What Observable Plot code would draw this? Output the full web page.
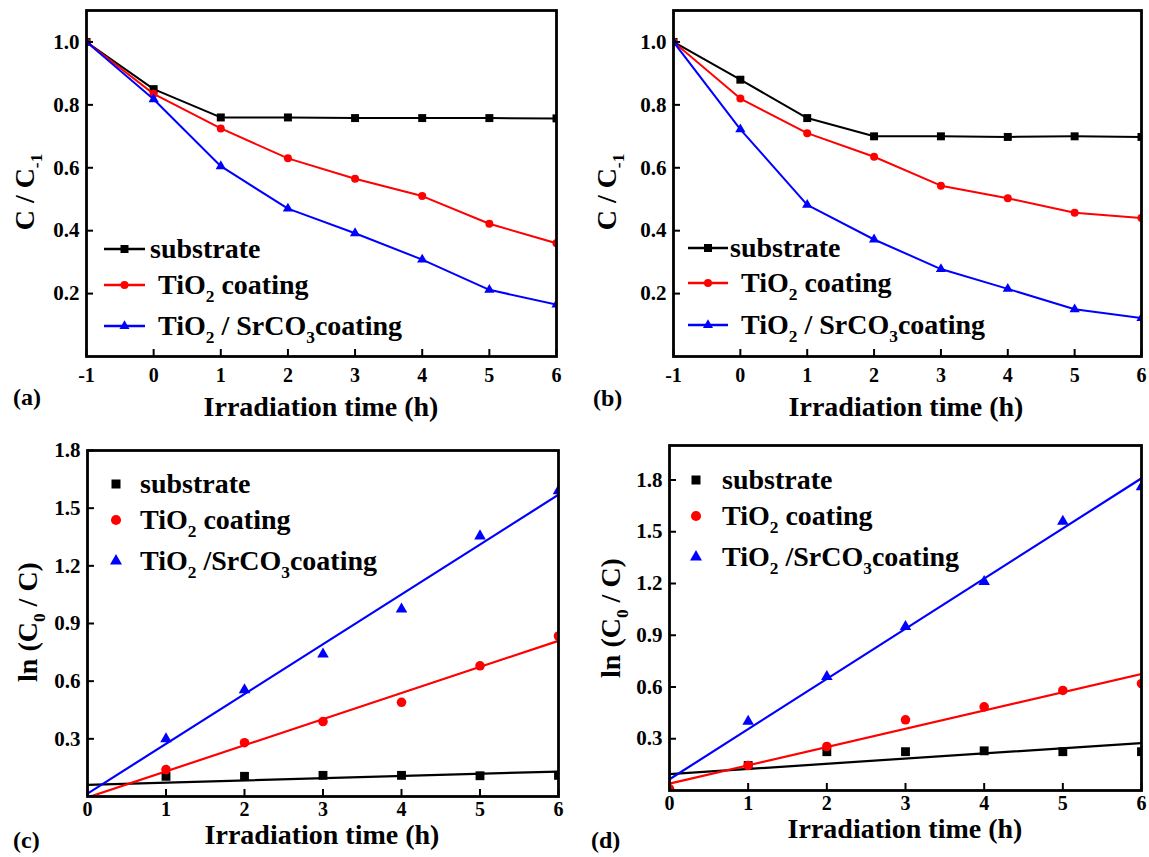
<!DOCTYPE html>
<html><head><meta charset="utf-8">
<script src="https://cdn.jsdelivr.net/npm/d3@7"></script>
<script src="https://cdn.jsdelivr.net/npm/@observablehq/plot@0.6"></script>
<style>
body{margin:0;background:#fff;}
#fig{position:relative;width:1149px;height:857px;background:#fff;overflow:hidden;}
#fig svg, #fig text, #fig tspan{font-family:"Liberation Serif","Times New Roman","DejaVu Serif",serif !important;font-weight:bold;}
#fig g[aria-label="x-axis tick label"] text{font-size:20px !important;}
#fig g[aria-label="y-axis tick label"] text{font-size:21px !important;}
</style></head><body><div id="fig"></div>
<script>
// ---------- data ----------
const seriesNames = ["substrate", "TiO2 coating", "TiO2 / SrCO3 coating"];
const seriesColors = ["#000000", "#ff0000", "#0000ff"];
const seriesSymbols = ["square", "circle", "triangle"];

// (a) C/C-1 vs irradiation time
const timeAB = [-1, 0, 1, 2, 3, 4, 5, 6];
const aSubstrate = [1.0, 0.85, 0.76, 0.76, 0.758, 0.758, 0.758, 0.757];
const aTiO2 = [1.0, 0.835, 0.725, 0.63, 0.565, 0.51, 0.422, 0.36];
const aSrCO3 = [1.0, 0.818, 0.605, 0.47, 0.392, 0.308, 0.212, 0.165];
// (b)
const bSubstrate = [1.0, 0.88, 0.758, 0.70, 0.70, 0.698, 0.70, 0.698];
const bTiO2 = [1.0, 0.82, 0.71, 0.635, 0.543, 0.503, 0.457, 0.44];
const bSrCO3 = [1.0, 0.722, 0.482, 0.372, 0.278, 0.215, 0.15, 0.122];
// (c) ln(C0/C) points
const timeCD = [1, 2, 3, 4, 5, 6];
const cSubstrate = [0.105, 0.105, 0.11, 0.11, 0.108, 0.11];
const cTiO2 = [0.14, 0.28, 0.39, 0.49, 0.68, 0.835];
const cSrCO3 = [0.30, 0.555, 0.74, 0.975, 1.355, 1.59];
// (d)
const dSubstrate = [0.145, 0.225, 0.225, 0.23, 0.225, 0.225];
const dTiO2 = [0.145, 0.255, 0.41, 0.485, 0.58, 0.62];
const dSrCO3 = [0.40, 0.66, 0.95, 1.21, 1.56, 1.76];
const dTiO2Start = [0, 0.01];
// linear fit lines (endpoints at t = 0 and t = 6)
const fitTime = [0, 6];
const cFitSubstrate = [0.06, 0.13];
const cFitTiO2 = [-0.005, 0.81];
const cFitSrCO3 = [0.015, 1.57];
const dFitSubstrate = [0.095, 0.275];
const dFitTiO2 = [0.04, 0.675];
const dFitSrCO3 = [0.065, 1.81];

// ticks
const xTicksAB = [-1, 0, 1, 2, 3, 4, 5, 6];
const yTicksAB = [0.2, 0.4, 0.6, 0.8, 1.0];
const xTicksCD = [0, 1, 2, 3, 4, 5, 6];
const yTicksC = [0.3, 0.6, 0.9, 1.2, 1.5, 1.8];
const yTicksD = [0.3, 0.6, 0.9, 1.2, 1.5, 1.8];

// ---------- helpers ----------
const FONT = '"Liberation Serif","Times New Roman","DejaVu Serif",serif';
const XTICKFS = 20, YTICKFS = 21;
const rows = (xs, ys) => xs.map((x, i) => ({x, y: ys[i]}));
const fmtX = d => (d < 0 ? "-" + Math.abs(d) : String(d));
const markerR = {square: 4.5, circle: 4, triangle: 3.8};
const markerRpts = {square: 5, circle: 4.8, triangle: 4.3};

function panel(o) {
  const plotW = o.width - o.margin[1] - o.margin[3];
  const plotH = o.height - o.margin[0] - o.margin[2];
  const tickLen = 7;
  const dyTick = tickLen * (o.yDomain[1] - o.yDomain[0]) / plotH;
  const dxTick = tickLen * (o.xDomain[1] - o.xDomain[0]) / plotW;
  const marks = [];
  o.series.forEach((s, i) => {
    if (s.fit) marks.push(Plot.line(rows(fitTime, s.fit), {x: "x", y: "y", stroke: seriesColors[i], strokeWidth: 2.2, clip: true}));
    if (s.line) marks.push(Plot.line(rows(o.time, s.values), {x: "x", y: "y", stroke: seriesColors[i], strokeWidth: 2, clip: true}));
    const r = s.line ? markerR[seriesSymbols[i]] : markerRpts[seriesSymbols[i]];
    marks.push(Plot.dot(rows(o.time, s.values), {x: "x", y: "y", symbol: () => seriesSymbols[i], fill: seriesColors[i], stroke: "none", r, clip: true}));
    if (s.extra) marks.push(Plot.dot([{x: s.extra[0], y: s.extra[1]}], {x: "x", y: "y", symbol: () => seriesSymbols[i], fill: seriesColors[i], stroke: "none", r, clip: true}));
  });
  marks.push(Plot.ruleX(o.xTicks, {x: d => d, y1: o.yDomain[0], y2: o.yDomain[0] + dyTick, stroke: "#000", strokeWidth: 2}));
  marks.push(Plot.ruleY(o.yTicks, {y: d => d, x1: o.xDomain[0], x2: o.xDomain[0] + dxTick, stroke: "#000", strokeWidth: 2}));
  marks.push(Plot.axisX(o.xTicks, {tickSize: 0, tickPadding: o.xPad, tickFormat: fmtX, fontSize: XTICKFS, fontWeight: "bold", fontFamily: FONT, label: null}));
  marks.push(Plot.axisY(o.yTicks, {tickSize: 0, tickPadding: 7, tickFormat: d3.format(".1f"), fontSize: YTICKFS, fontWeight: "bold", fontFamily: FONT, label: null}));
  marks.push(Plot.frame({stroke: "#000", strokeWidth: 2.8}));
  const svg = Plot.plot({
    width: o.width, height: o.height,
    marginTop: o.margin[0], marginRight: o.margin[1], marginBottom: o.margin[2], marginLeft: o.margin[3],
    x: {domain: o.xDomain}, y: {domain: o.yDomain},
    symbol: {type: "identity"},
    style: {fontFamily: FONT, fontWeight: "bold", fontSize: XTICKFS + "px", background: "transparent", color: "#000", overflow: "visible"},
    marks
  });
  svg.style.position = "absolute";
  svg.style.left = o.left + "px";
  svg.style.top = o.top + "px";
  document.getElementById("fig").appendChild(svg);
}

panel({left: 0, top: 0, width: 580, height: 430, margin: [10, 24, 74, 86], xPad: 11,
  xDomain: [-1, 6], yDomain: [0, 1.1], xTicks: xTicksAB, yTicks: yTicksAB, time: timeAB,
  series: [{values: aSubstrate, line: true}, {values: aTiO2, line: true}, {values: aSrCO3, line: true}]});
panel({left: 580, top: 0, width: 569, height: 430, margin: [10, 8, 74, 93], xPad: 11,
  xDomain: [-1, 6], yDomain: [0, 1.1], xTicks: xTicksAB, yTicks: yTicksAB, time: timeAB,
  series: [{values: bSubstrate, line: true}, {values: bTiO2, line: true}, {values: bSrCO3, line: true}]});
panel({left: 0, top: 430, width: 580, height: 427, margin: [20, 22, 61, 87], xPad: 5,
  xDomain: [0, 6], yDomain: [0, 1.8], xTicks: xTicksCD, yTicks: yTicksC, time: timeCD,
  series: [{values: cSubstrate, fit: cFitSubstrate}, {values: cTiO2, fit: cFitTiO2}, {values: cSrCO3, fit: cFitSrCO3}]});
panel({left: 580, top: 430, width: 569, height: 427, margin: [15, 8, 67, 89], xPad: 5,
  xDomain: [0, 6], yDomain: [0, 2.0], xTicks: xTicksCD, yTicks: yTicksD, time: timeCD,
  series: [{values: dSubstrate, fit: dFitSubstrate}, {values: dTiO2, fit: dFitTiO2, extra: dTiO2Start}, {values: dSrCO3, fit: dFitSrCO3}]});

// ---------- overlay text & legends ----------
const ov = d3.select("#fig").append("svg")
  .attr("width", 1149).attr("height", 857)
  .style("position", "absolute").style("left", "0px").style("top", "0px")
  .style("pointer-events", "none")
  .style("font-family", FONT).style("font-weight", "bold");

function richText(x, y, parts, size, opt = {}) {
  const t = ov.append("text").attr("font-size", size).attr("fill", "#000");
  if (opt.rotate) t.attr("transform", `translate(${x},${y}) rotate(-90)`).attr("text-anchor", "middle");
  else t.attr("x", x).attr("y", y).attr("text-anchor", opt.anchor || "start");
  let shift = 0;
  const sh = size * 0.28;
  for (const [s, sub] of parts) {
    const ts = t.append("tspan").text(s);
    if (sub) { ts.attr("font-size", size * 0.62).attr("dy", sh - shift); shift = sh; }
    else { if (shift) ts.attr("dy", -shift); shift = 0; }
  }
  return t;
}

const labTiO2 = [["TiO"], ["2", 1], [" coating"]];
const labSrAB = [["TiO"], ["2", 1], [" / SrCO"], ["3", 1], ["coating"]];
const labSrCD = [["TiO"], ["2", 1], [" /SrCO"], ["3", 1], ["coating"]];

// panel letters
richText(13, 405, [["(a)"]], 24);
richText(593, 406, [["(b)"]], 24);
richText(13, 848, [["(c)"]], 24);
richText(591, 848, [["(d)"]], 24);
// x titles
richText(321, 416, [["Irradiation time (h)"]], 28, {anchor: "middle"});
richText(906, 416, [["Irradiation time (h)"]], 28, {anchor: "middle"});
richText(322, 844, [["Irradiation time (h)"]], 28, {anchor: "middle"});
richText(905, 838, [["Irradiation time (h)"]], 28, {anchor: "middle"});
// y titles
richText(34, 192, [["C / C"], ["-1", 1]], 28, {rotate: true});
richText(616, 192, [["C / C"], ["-1", 1]], 28, {rotate: true});
richText(37, 622, [["ln (C"], ["0", 1], [" / C)"]], 28, {rotate: true});
richText(620, 618, [["ln (C"], ["0", 1], [" / C)"]], 28, {rotate: true});

const symArea = {square: 64, circle: 50, triangle: 44};
const symAreaPts = {square: 81, circle: 80, triangle: 62};
const d3sym = {square: d3.symbolSquare, circle: d3.symbolCircle, triangle: d3.symbolTriangle};

function legend(cfg) {
  cfg.rowsY.forEach((y, i) => {
    const sym = seriesSymbols[i];
    if (cfg.lineX) {
      ov.append("line").attr("x1", cfg.lineX[0]).attr("x2", cfg.lineX[1]).attr("y1", y).attr("y2", y)
        .attr("stroke", seriesColors[i]).attr("stroke-width", 2.5);
    }
    ov.append("path").attr("d", d3.symbol(d3sym[sym], cfg.lineX ? symArea[sym] : symAreaPts[sym])())
      .attr("transform", `translate(${cfg.markX},${y})`).attr("fill", seriesColors[i]);
    richText(cfg.textX[i], y + 9, cfg.labels[i], 28);
  });
}
legend({lineX: [104, 145], markX: 124.5, rowsY: [249, 285, 326], textX: [150, 158, 158], labels: [[["substrate"]], labTiO2, labSrAB]});
legend({lineX: [688, 728], markX: 708, rowsY: [248, 283, 325], textX: [730, 741, 741], labels: [[["substrate"]], labTiO2, labSrAB]});
legend({markX: 116, rowsY: [484, 520, 561], textX: [140, 140, 140], labels: [[["substrate"]], labTiO2, labSrCD]});
legend({markX: 696, rowsY: [480, 516, 557], textX: [722, 722, 722], labels: [[["substrate"]], labTiO2, labSrCD]});
</script></body></html>
